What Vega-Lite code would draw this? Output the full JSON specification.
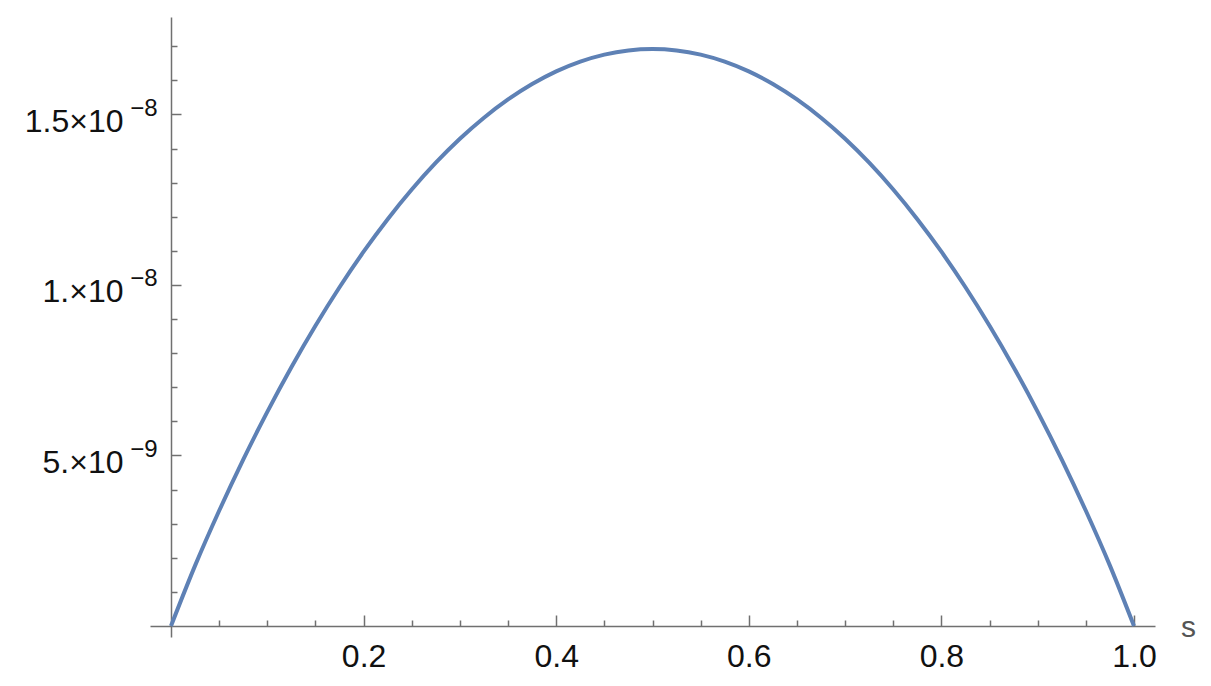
{
  "$schema": "https://vega.github.io/schema/vega-lite/v6.json",
  "width": 1005,
  "height": 620,
  "autosize": "none",
  "padding": {"left": 150, "top": 17, "right": 56, "bottom": 49},
  "background": "white",
  "config": {"view": {"stroke": null}, "axis": {"grid": false, "labelFlush": false, "labelOverlap": false}},
  "data": {"values": [
    {"s": 0, "y": 0},
    {"s": 0.025, "y": 1.770e-9},
    {"s": 0.05, "y": 3.379e-9},
    {"s": 0.075, "y": 4.880e-9},
    {"s": 0.1, "y": 6.281e-9},
    {"s": 0.125, "y": 7.589e-9},
    {"s": 0.15, "y": 8.805e-9},
    {"s": 0.175, "y": 9.934e-9},
    {"s": 0.2, "y": 1.0976e-8},
    {"s": 0.225, "y": 1.1929e-8},
    {"s": 0.25, "y": 1.2800e-8},
    {"s": 0.275, "y": 1.3585e-8},
    {"s": 0.3, "y": 1.4287e-8},
    {"s": 0.325, "y": 1.4905e-8},
    {"s": 0.35, "y": 1.5441e-8},
    {"s": 0.375, "y": 1.5893e-8},
    {"s": 0.4, "y": 1.6264e-8},
    {"s": 0.425, "y": 1.6551e-8},
    {"s": 0.45, "y": 1.6756e-8},
    {"s": 0.475, "y": 1.6879e-8},
    {"s": 0.5, "y": 1.692e-8},
    {"s": 0.525, "y": 1.6879e-8},
    {"s": 0.55, "y": 1.6756e-8},
    {"s": 0.575, "y": 1.6551e-8},
    {"s": 0.6, "y": 1.6264e-8},
    {"s": 0.625, "y": 1.5893e-8},
    {"s": 0.65, "y": 1.5441e-8},
    {"s": 0.675, "y": 1.4905e-8},
    {"s": 0.7, "y": 1.4287e-8},
    {"s": 0.725, "y": 1.3585e-8},
    {"s": 0.75, "y": 1.2800e-8},
    {"s": 0.775, "y": 1.1929e-8},
    {"s": 0.8, "y": 1.0976e-8},
    {"s": 0.825, "y": 9.934e-9},
    {"s": 0.85, "y": 8.805e-9},
    {"s": 0.875, "y": 7.589e-9},
    {"s": 0.9, "y": 6.281e-9},
    {"s": 0.925, "y": 4.880e-9},
    {"s": 0.95, "y": 3.379e-9},
    {"s": 0.975, "y": 1.770e-9},
    {"s": 1, "y": 0}
  ]},
  "layer": [
    {
      "mark": {"type": "line", "color": "#5E81B5", "strokeWidth": 4, "interpolate": "monotone", "clip": false},
      "encoding": {
        "x": {"field": "s", "type": "quantitative",
          "scale": {"domain": [-0.0218, 1.0218], "zero": false, "nice": false},
          "axis": {"orient": "bottom", "offset": -11, "values": [0.2, 0.4, 0.6, 0.8, 1.0], "format": ".1f",
            "tickSize": -11, "tickWidth": 1.5, "tickColor": "#707070", "domainColor": "#707070", "domainWidth": 1.5,
            "labelFont": "Liberation Sans", "labelFontSize": 32, "labelColor": "#111111", "labelPadding": 26, "labelAlign": "center",
            "title": "s", "titleFont": "Liberation Sans", "titleFontSize": 30, "titleFontWeight": "normal", "titleColor": "#555555",
            "titleX": 1038, "titleY": 1, "titleAlign": "center", "titleBaseline": "middle", "titleAnchor": null, "titleAngle": 0}},
        "y": {"field": "y", "type": "quantitative",
          "scale": {"domain": [-3.226e-10, 1.7859e-8], "zero": false, "nice": false},
          "axis": {"orient": "left", "offset": -21, "values": [5e-9, 1e-8, 1.5e-8],
            "labelExpr": "datum.value < 7e-9 ? '5.×10' : (datum.value < 1.2e-8 ? '1.×10' : '1.5×10')",
            "tickSize": -10, "tickWidth": 1.5, "tickColor": "#707070", "domainColor": "#707070", "domainWidth": 1.5,
            "labelFont": "Liberation Sans", "labelFontSize": 32, "labelColor": "#111111", "labelPadding": 58,
            "labelAlign": "right", "labelBaseline": "middle", "labelOffset": 7, "title": null}}
      }
    },
    {
      "mark": {"type": "line", "strokeOpacity": 0},
      "encoding": {
        "x": {"field": "s", "type": "quantitative",
          "axis": {"orient": "bottom", "offset": -11, "values": [0.05, 0.1, 0.15, 0.25, 0.3, 0.35, 0.45, 0.5, 0.55, 0.65, 0.7, 0.75, 0.85, 0.9, 0.95],
            "tickSize": -6, "tickWidth": 1.5, "tickColor": "#707070", "domain": false, "labels": false, "title": null}},
        "y": {"field": "y", "type": "quantitative",
          "axis": {"orient": "left", "offset": -21, "values": [1e-9, 2e-9, 3e-9, 4e-9, 6e-9, 7e-9, 8e-9, 9e-9, 1.1e-8, 1.2e-8, 1.3e-8, 1.4e-8, 1.6e-8, 1.7e-8],
            "tickSize": -6, "tickWidth": 1.5, "tickColor": "#707070", "domain": false, "labels": false, "title": null}}
      }
    },
    {
      "mark": {"type": "line", "strokeOpacity": 0},
      "encoding": {
        "x": {"field": "s", "type": "quantitative", "axis": null},
        "y": {"field": "y", "type": "quantitative",
          "axis": {"orient": "left", "offset": -21, "values": [5e-9, 1e-8, 1.5e-8],
            "labelExpr": "datum.value < 7e-9 ? '−9' : '−8'",
            "ticks": false, "tickSize": 0, "domain": false,
            "labelFont": "Liberation Sans", "labelFontSize": 24, "labelColor": "#111111", "labelPadding": 14,
            "labelAlign": "right", "labelBaseline": "middle", "labelOffset": -6, "title": null}}
      }
    }
  ],
  "resolve": {"axis": {"x": "independent", "y": "independent"}}
}
